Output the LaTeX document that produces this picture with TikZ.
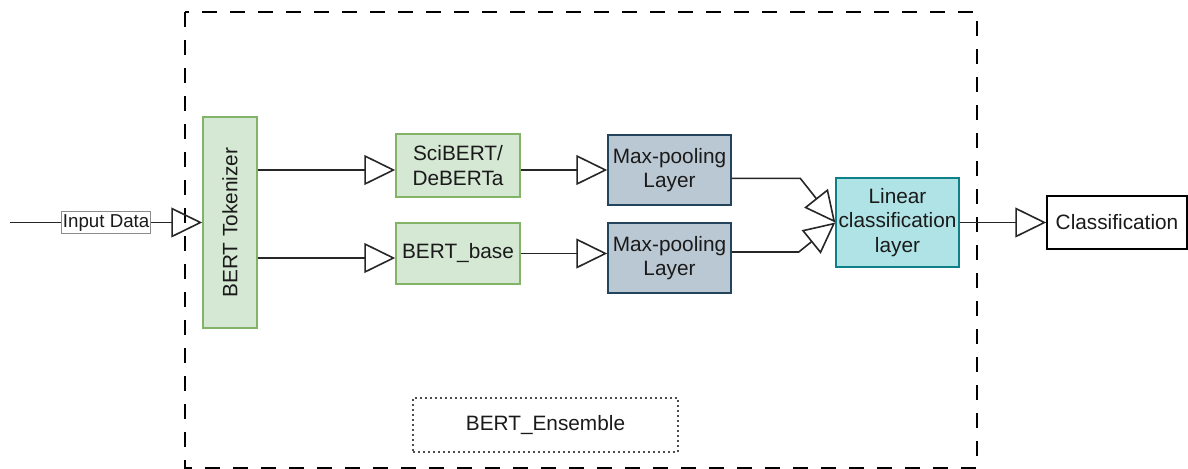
\documentclass[tikz,border=0pt]{standalone}
\usepackage{fontspec}
\setmainfont{Liberation Sans}
\usetikzlibrary{arrows.meta,calc}

\definecolor{greenfill}{HTML}{D5E8D4}
\definecolor{greenline}{HTML}{82B366}
\definecolor{bluefill}{HTML}{BAC8D3}
\definecolor{blueline}{HTML}{23445D}
\definecolor{tealfill}{HTML}{B0E3E6}
\definecolor{tealline}{HTML}{0E8088}
\definecolor{inktext}{HTML}{1A1A1A}

\tikzset{
  blockbox/.style={draw, line width=0.75pt, align=center, inner sep=1pt,
    text=inktext, font=\fontsize{10.4}{12.2}\selectfont},
  encoder/.style={blockbox, fill=greenfill, draw=greenline},
  pooler/.style={blockbox, fill=bluefill, draw=blueline},
  classifier/.style={blockbox, fill=tealfill, draw=tealline},
  flow/.style={line width=0.8pt, draw=black!85,
    -{Triangle[open, length=15.5pt, width=15pt]}},
  edgelabel/.style={draw=black!45, line width=0.4pt, fill=white, text=inktext,
    inner xsep=0.6pt, inner ysep=0pt, minimum height=11pt,
    font=\fontsize{9.35}{11}\selectfont},
}

\begin{document}
\begin{tikzpicture}[x=0.5pt, y=-0.5pt]
  \useasboundingbox (0,0) rectangle (1188,468);

  % ensemble frame
  \draw[line width=0.7pt, dash pattern=on 7.5pt off 6.5pt] (185,12) rectangle (977,468);
  \node[draw=black!70, line width=0.6pt, dash pattern=on 1pt off 1.5pt,
        minimum width=132.5pt, minimum height=27pt, text=inktext,
        font=\fontsize{10.4}{12.2}\selectfont] (ens) at (545.5,425) {BERT\_Ensemble};

  % blocks
  \node[encoder, minimum width=27pt, minimum height=105.5pt] (tok) at (230,222.5)
       {\rotatebox{90}{BERT Tokenizer}};
  \node[encoder, minimum width=62pt, minimum height=31.5pt] (sci) at (458,165.5)
       {SciBERT/\\DeBERTa};
  \node[encoder, minimum width=62pt, minimum height=30.5pt] (base) at (458,253.5)
       {BERT\_base};
  \node[pooler, minimum width=61.5pt, minimum height=35pt] (mp1) at (669.5,170)
       {Max-pooling\\Layer};
  \node[pooler, minimum width=61.5pt, minimum height=35pt] (mp2) at (669.5,258)
       {Max-pooling\\Layer};
  \node[classifier, minimum width=61.5pt, minimum height=44.5pt] (lin) at (897.5,222.5)
       {Linear\\classification\\layer};
  \node[blockbox, fill=white, draw=black, minimum width=70pt, minimum height=26.5pt]
       (cls) at (1117,222.5) {Classification};

  % connectors
  \coordinate (src) at (10,222.5);
  \draw[flow] (src) -- node[edgelabel] (inlabel) {Input Data} (tok.west);

  \draw[flow] (tok.east |- mp1) -- (sci.west |- mp1);
  \draw[flow] (tok.east |- mp2) -- (base.west |- mp2);
  \draw[flow] (sci.east |- mp1) -- (mp1.west);
  \draw[flow] (base.east) -- (mp2.west |- base);

  \draw[flow] ($(mp1.east)+(0,8.3)$) -- ($(mp1.east)+(68.5,8.3)$) -- (lin.west);
  \draw[flow] ($(mp2.east)+(0,-6)$) -- ($(mp2.east)+(67,-6)$) -- (lin.west);

  \draw[flow] (lin.east) -- (cls.west);
\end{tikzpicture}
\end{document}
